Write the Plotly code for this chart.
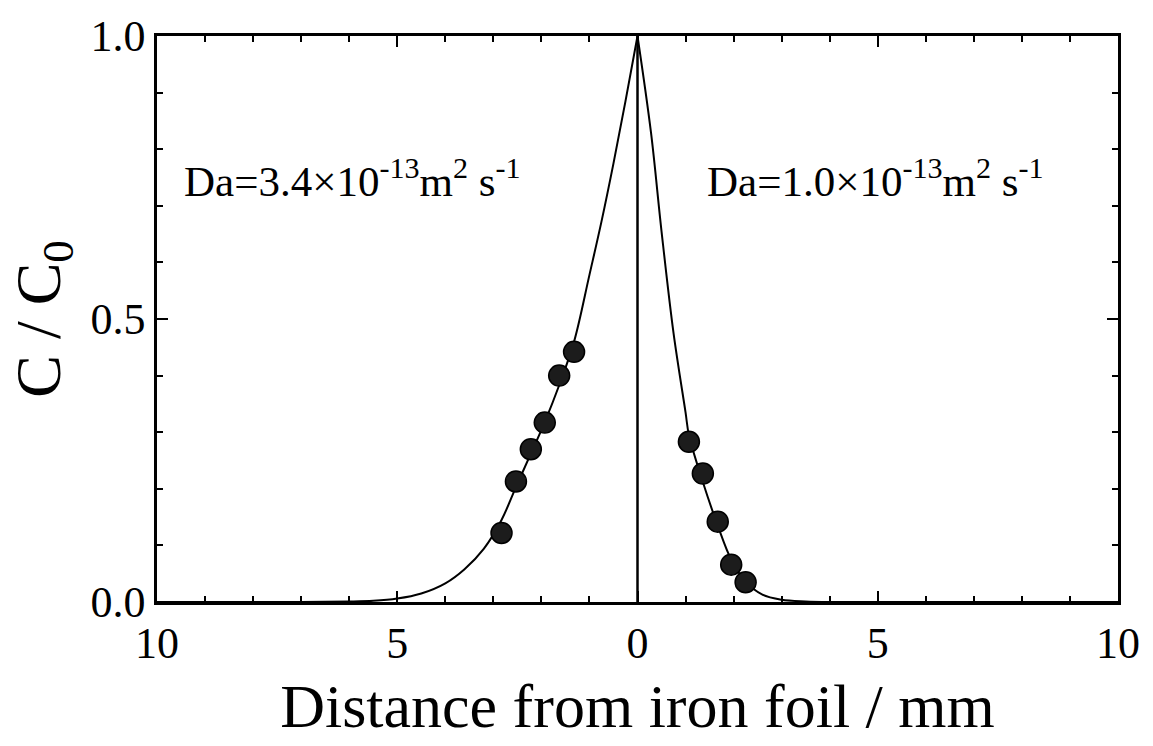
import plotly.graph_objects as go

# measured points (signed distance, mm; left side negative)
left_x = [-1.32, -1.63, -1.93, -2.22, -2.53, -2.83]
left_y = [0.442, 0.400, 0.317, 0.270, 0.213, 0.122]
right_x = [1.07, 1.36, 1.67, 1.95, 2.25]
right_y = [0.283, 0.227, 0.142, 0.066, 0.035]

# fitted curves
curve_left_x = [0, -0.25, -0.5, -0.75, -1.0, -1.32, -1.63, -1.93, -2.22, -2.53, -2.83,
                -3.2, -3.6, -4.0, -4.5, -5.0, -5.5, -6.0, -7.0, -10.0]
curve_left_y = [1.0, 0.885, 0.775, 0.672, 0.578, 0.46, 0.383, 0.318, 0.262, 0.203, 0.145,
                0.094, 0.058, 0.033, 0.015, 0.006, 0.002, 0.0007, 0.0, 0.0]
curve_right_x = [0, 0.28, 0.5, 0.75, 1.0, 1.07, 1.36, 1.67, 1.95, 2.25, 2.6, 3.0, 3.5, 4.0, 10.0]
curve_right_y = [1.0, 0.83, 0.655, 0.475, 0.335, 0.295, 0.212, 0.135, 0.075, 0.036, 0.013, 0.004, 0.001, 0.0, 0.0]

x_tickvals = [-10, -5, 0, 5, 10]
x_ticktext = ["10", "5", "0", "5", "10"]
y_tickvals = [0, 0.5, 1.0]
y_ticktext = ["0.0", "0.5", "1.0"]

FONT = "Liberation Serif, Times New Roman, serif"

fig = go.Figure()
fig.add_trace(go.Scatter(x=curve_left_x, y=curve_left_y, mode="lines",
                         line=dict(color="black", width=2), line_shape="spline",
                         showlegend=False, hoverinfo="skip"))
fig.add_trace(go.Scatter(x=curve_right_x, y=curve_right_y, mode="lines",
                         line=dict(color="black", width=2), line_shape="spline",
                         showlegend=False, hoverinfo="skip"))
fig.add_trace(go.Scatter(x=[0, 0], y=[0, 1], mode="lines",
                         line=dict(color="black", width=2.5),
                         showlegend=False, hoverinfo="skip"))
fig.add_trace(go.Scatter(x=left_x + right_x, y=left_y + right_y, mode="markers",
                         marker=dict(size=21, color="#1c1c1c",
                                     line=dict(color="black", width=1.5)),
                         showlegend=False))

axis_common = dict(showgrid=False, zeroline=False, showline=True, linecolor="black",
                   linewidth=2.5, mirror="allticks", ticks="inside", ticklen=11,
                   tickwidth=2, tickcolor="black",
                   tickfont=dict(family=FONT, size=44, color="black"))

fig.update_xaxes(range=[-10, 10], tickvals=x_tickvals, ticktext=x_ticktext,
                 minor=dict(dtick=1, ticks="inside", ticklen=6, tickwidth=1.5,
                            tickcolor="black"),
                 title=dict(text="Distance from iron foil / mm",
                            font=dict(family=FONT, size=62, color="black"), standoff=18),
                 **axis_common)
fig.update_yaxes(range=[0, 1], tickvals=y_tickvals, ticktext=y_ticktext,
                 minor=dict(dtick=0.1, ticks="inside", ticklen=6, tickwidth=1.5,
                            tickcolor="black"),
                 title=dict(text="C / C<sub>0</sub>",
                            font=dict(family=FONT, size=64, color="black"), standoff=10),
                 **axis_common)

ann_font = dict(family=FONT, size=43, color="black")
fig.add_annotation(x=-5.94, y=0.75, xref="x", yref="y", showarrow=False,
                   text="Da=3.4×10<sup>-13</sup>m<sup>2</sup> s<sup>-1</sup>", font=ann_font)
fig.add_annotation(x=4.96, y=0.75, xref="x", yref="y", showarrow=False,
                   text="Da=1.0×10<sup>-13</sup>m<sup>2</sup> s<sup>-1</sup>", font=ann_font)

fig.update_layout(width=1153, height=746, plot_bgcolor="white", paper_bgcolor="white",
                  margin=dict(l=157, r=35, t=28, b=144))
fig.write_html("out.html")
